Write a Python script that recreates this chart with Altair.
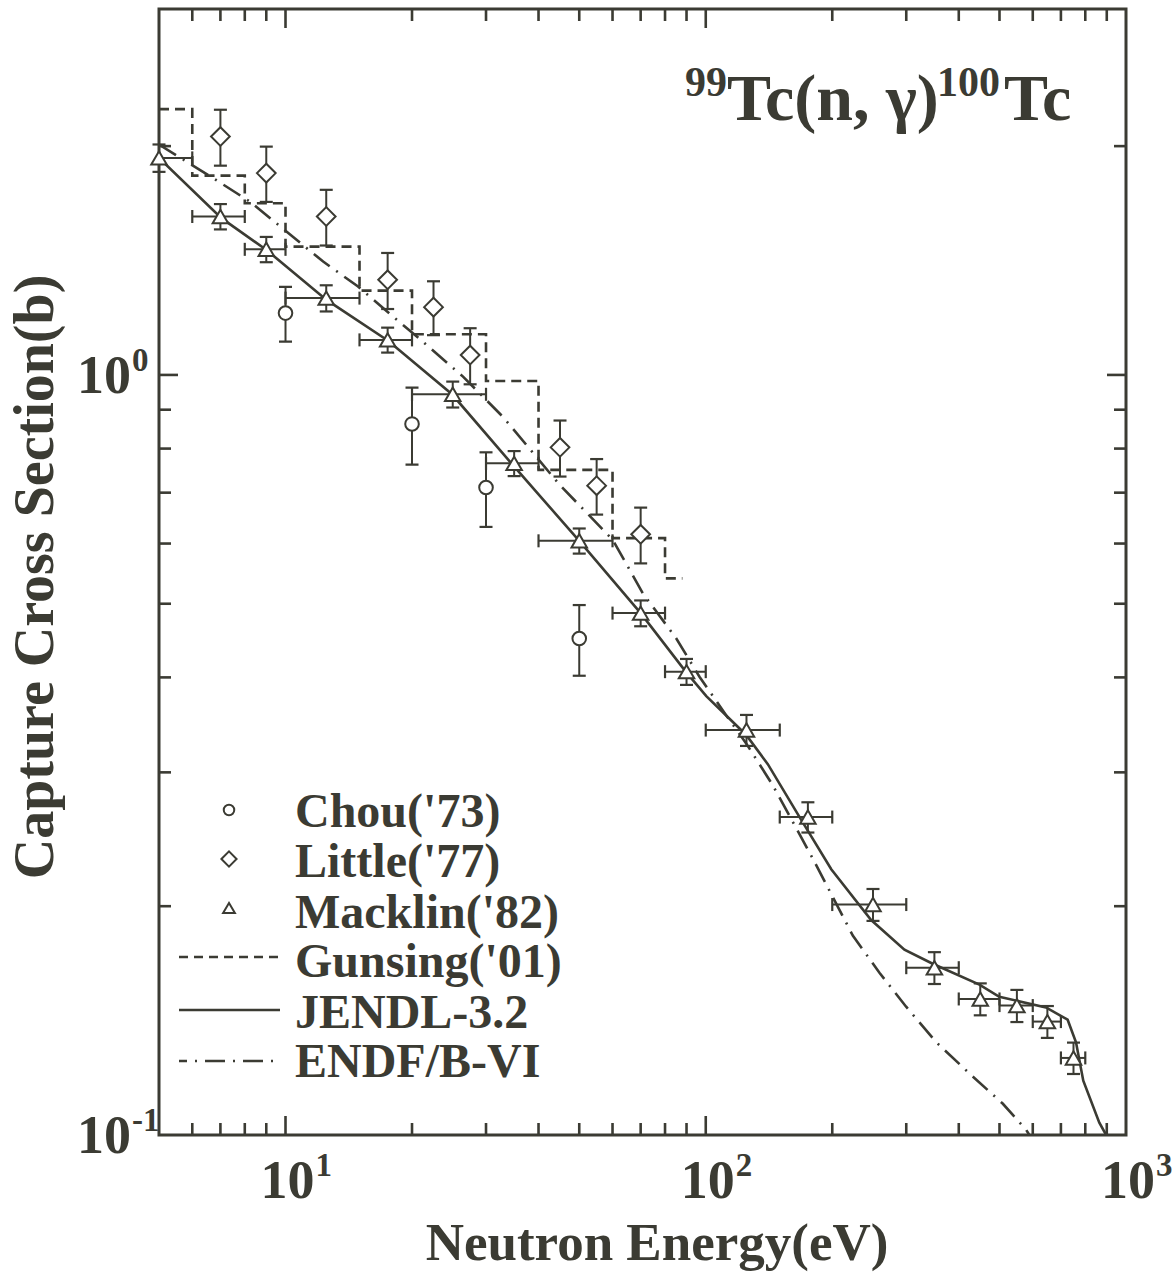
import altair as alt
import pandas as pd

INK = "#3b3b33"
SERIF = "Liberation Serif"
TICKFONT = "Liberation Serif"
W, H = 967, 1126

# ---------------- measured capture cross sections ----------------
chou_e = [10, 20, 30, 50]
chou_sig = [1.206, 0.862, 0.711, 0.450]
chou_err = [0.10, 0.10, 0.08, 0.048]

little_e = [7, 9, 12.5, 17.5, 22.5, 27.5, 45, 55, 70]
little_sig = [2.059, 1.843, 1.616, 1.334, 1.228, 1.062, 0.803, 0.715, 0.617]
little_err = [0.174, 0.154, 0.136, 0.113, 0.10, 0.09, 0.068, 0.06, 0.052]

mack_e = [5, 7, 9, 12.5, 17.5, 25, 35, 50, 70, 90, 125, 175, 250, 350, 450, 550, 650, 750]
mack_elo = [4, 6, 8, 10, 15, 20, 30, 40, 60, 80, 100, 150, 200, 300, 400, 500, 600, 700]
mack_ehi = [6, 8, 10, 15, 20, 30, 40, 60, 80, 100, 150, 200, 300, 400, 500, 600, 700, 800]
mack_sig = [1.93, 1.616, 1.463, 1.262, 1.112, 0.943, 0.765, 0.605, 0.486, 0.407,
            0.341, 0.262, 0.201, 0.166, 0.151, 0.148, 0.141, 0.1263]
mack_err = [0.08, 0.062, 0.056, 0.05, 0.042, 0.037, 0.029, 0.023, 0.019, 0.016,
            0.016, 0.012, 0.0097, 0.008, 0.0073, 0.0072, 0.0068, 0.006]

# Gunsing ('01): averaged cross section per energy bin (bin edges, value per bin)
gunsing_edges = [5, 6, 8, 10, 15, 20, 30, 40, 60, 80, 88]
gunsing_sig = [2.237, 1.829, 1.682, 1.475, 1.291, 1.131, 0.982, 0.750, 0.610, 0.540, 0.540]

# ---------------- evaluated data ----------------
jendl_e = [5.0, 7.04, 9.01, 12.52, 17.54, 24.9, 34.9, 50, 70, 89.6, 100.3, 124.8, 140.5,
           167.2, 198.9, 247.5, 297, 346.7, 447.9, 499.5, 645, 726.3, 760.4, 791.3, 864, 897]
jendl_sig = [1.93, 1.608, 1.46, 1.255, 1.109, 0.943, 0.759, 0.605, 0.486, 0.407, 0.378,
             0.336, 0.3075, 0.262, 0.2237, 0.1918, 0.1753, 0.168, 0.1577, 0.152, 0.1472,
             0.1418, 0.1324, 0.1179, 0.1038, 0.1]

endf_e = [5.0, 6.73, 8.23, 10.05, 12.29, 14.88, 18.03, 20.1, 26.45, 32.9, 44.9, 60.1,
          70.85, 85.1, 96.7, 111.9, 124.8, 144.4, 179.8, 223.8, 259, 299.8, 353.4, 424,
          508.7, 578.4, 589]
endf_sig = [2.01, 1.815, 1.69, 1.544, 1.41, 1.307, 1.193, 1.135, 0.995, 0.881, 0.717,
            0.6066, 0.516, 0.450, 0.4005, 0.3565, 0.3275, 0.2885, 0.231, 0.183, 0.1635,
            0.1475, 0.1325, 0.1205, 0.110, 0.1016, 0.1]

# ---------------- axis ticks and labels ----------------
x_major = [10, 100]
x_minor = [6, 7, 8, 9, 20, 30, 40, 50, 60, 70, 80, 90, 200, 300, 400, 500, 600, 700, 800, 900]
y_major = [1]
y_minor = [0.2, 0.3, 0.4, 0.5, 0.6, 0.7, 0.8, 0.9, 2]
x_label_at = [10, 100, 1000]
x_label_exp = ["1", "2", "3"]
y_label_at = [0.1, 1]
y_label_exp = ["-1", "0"]

legend_names = ["Chou('73)", "Little('77)", "Macklin('82)", "Gunsing('01)", "JENDL-3.2", "ENDF/B-VI"]

xs = alt.Scale(type="log", domain=[5, 1000], nice=False)
ys = alt.Scale(type="log", domain=[0.1, 3.03], nice=False)


def X(f):
    return alt.X(f"{f}:Q", scale=xs, axis=None)


def Y(f):
    return alt.Y(f"{f}:Q", scale=ys, axis=None)


def points_df(e, s, err):
    d = pd.DataFrame({"e": e, "s": s, "err": err})
    d["lo"] = d["s"] - d["err"]
    d["hi"] = d["s"] + d["err"]
    return d


chou = points_df(chou_e, chou_sig, chou_err)
little = points_df(little_e, little_sig, little_err)
mack = points_df(mack_e, mack_sig, mack_err)
mack["elo"] = mack_elo
mack["ehi"] = mack_ehi

layers = []

# evaluated curves and the Gunsing histogram
layers.append(alt.Chart(pd.DataFrame({"e": jendl_e, "s": jendl_sig})).mark_line(
    color=INK, strokeWidth=2.6, clip=True).encode(x=X("e"), y=Y("s")))
layers.append(alt.Chart(pd.DataFrame({"e": endf_e, "s": endf_sig})).mark_line(
    color=INK, strokeWidth=2.6, strokeDash=[20, 8, 2, 8], clip=True).encode(x=X("e"), y=Y("s")))
layers.append(alt.Chart(pd.DataFrame({"e": gunsing_edges, "s": gunsing_sig})).mark_line(
    color=INK, strokeWidth=2.6, strokeDash=[10, 6], interpolate="step-after", clip=True
).encode(x=X("e"), y=Y("s")))

# vertical error bars with caps
for d in (chou, little, mack):
    base = alt.Chart(d)
    layers.append(base.mark_rule(color=INK, strokeWidth=2).encode(
        x=X("e"), y=Y("lo"), y2="hi:Q"))
    layers.append(base.transform_fold(["lo", "hi"], as_=["k", "v"]).mark_tick(
        color=INK, orient="horizontal", size=13, thickness=2.2, opacity=1).encode(
        x=X("e"), y=Y("v")))

# horizontal (energy bin) error bars of Macklin
mb = alt.Chart(mack)
layers.append(mb.mark_rule(color=INK, strokeWidth=2, clip=True).encode(
    x=X("elo"), x2="ehi:Q", y=Y("s")))
layers.append(mb.transform_fold(["elo", "ehi"], as_=["k", "v"]).mark_tick(
    color=INK, orient="vertical", size=13, thickness=2.2, opacity=1, clip=True).encode(
    x=X("v"), y=Y("s")))

# open markers
for d, shape, size in ((chou, "circle", 185), (little, "diamond", 350), (mack, "triangle-up", 240)):
    layers.append(alt.Chart(d).mark_point(
        shape=shape, size=size, fill="white", fillOpacity=1, stroke=INK, strokeWidth=2,
        opacity=1).encode(x=X("e"), y=Y("s")))

# inward ticks on all four sides
for vals, ln in ((x_major, 19), (x_minor, 12)):
    tdf = pd.DataFrame({"v": vals})
    layers.append(alt.Chart(tdf).mark_rule(color=INK, strokeWidth=2.6).encode(
        x=X("v"), y=alt.value(H), y2=alt.value(H - ln)))
    layers.append(alt.Chart(tdf).mark_rule(color=INK, strokeWidth=2.6).encode(
        x=X("v"), y=alt.value(0), y2=alt.value(ln)))
for vals, ln in ((y_major, 19), (y_minor, 12)):
    tdf = pd.DataFrame({"v": vals})
    layers.append(alt.Chart(tdf).mark_rule(color=INK, strokeWidth=2.6).encode(
        y=Y("v"), x=alt.value(0), x2=alt.value(ln)))
    layers.append(alt.Chart(tdf).mark_rule(color=INK, strokeWidth=2.6).encode(
        y=Y("v"), x=alt.value(W), x2=alt.value(W - ln)))

# tick labels written as 10 with a raised exponent
xl = pd.DataFrame({"v": x_label_at, "p": x_label_exp})
layers.append(alt.Chart(xl).mark_text(
    font=TICKFONT, fontWeight="bold", fontSize=54, color=INK, align="right",
    baseline="alphabetic", dx=29).encode(x=X("v"), y=alt.value(H + 63), text=alt.value("10")))
layers.append(alt.Chart(xl).mark_text(
    font=TICKFONT, fontWeight="bold", fontSize=33, color=INK, align="left",
    baseline="alphabetic", dx=30).encode(x=X("v"), y=alt.value(H + 41), text="p:N"))

yl = pd.DataFrame({"v": y_label_at, "p": y_label_exp})
layers.append(alt.Chart(yl).mark_text(
    font=TICKFONT, fontWeight="bold", fontSize=54, color=INK, align="right",
    baseline="alphabetic", dy=18).encode(x=alt.value(-28), y=Y("v"), text=alt.value("10")))
layers.append(alt.Chart(yl).mark_text(
    font=TICKFONT, fontWeight="bold", fontSize=33, color=INK, align="left",
    baseline="alphabetic", dy=-4).encode(x=alt.value(-27), y=Y("v"), text="p:N"))

one = pd.DataFrame({"a": [0]})

# axis titles
layers.append(alt.Chart(one).mark_text(
    font=SERIF, fontWeight="bold", fontSize=53, color=INK, align="center",
    baseline="alphabetic").encode(x=alt.value(498), y=alt.value(H + 125),
                                  text=alt.value("Neutron Energy(eV)")))
layers.append(alt.Chart(one).mark_text(
    font=SERIF, fontWeight="bold", fontSize=56, color=INK, align="center",
    baseline="alphabetic", angle=270).encode(x=alt.value(-106), y=alt.value(568),
                                             text=alt.value("Capture Cross Section(b)")))

# reaction label
for txt, px, py, fs in (("99", 526, 87, 42), ("Tc(n, \u03b3)", 568, 111, 66),
                        ("100", 778, 87, 42), ("Tc", 845, 111, 66)):
    layers.append(alt.Chart(one).mark_text(
        font=SERIF, fontWeight="bold", fontSize=fs, color=INK, align="left",
        baseline="alphabetic").encode(x=alt.value(px), y=alt.value(py), text=alt.value(txt)))

# legend
leg_text_y = [818, 868, 919, 968, 1019, 1068]
for name, ty in zip(legend_names, leg_text_y):
    layers.append(alt.Chart(one).mark_text(
        font=SERIF, fontWeight="bold", fontSize=48, color=INK, align="left",
        baseline="alphabetic").encode(x=alt.value(136), y=alt.value(ty), text=alt.value(name)))
for shape, size, sy in (("circle", 110, 801), ("diamond", 230, 850), ("triangle-up", 140, 899)):
    layers.append(alt.Chart(one).mark_point(
        shape=shape, size=size, fill="white", fillOpacity=1, stroke=INK, strokeWidth=2,
        opacity=1).encode(x=alt.value(70), y=alt.value(sy)))
for dash, ly, off in (([9, 6], 948, 0), (None, 1001, 0), ([20, 8, 2, 8], 1052, 12)):
    kw = dict(color=INK, strokeWidth=2.6)
    if dash:
        kw["strokeDash"] = dash
        kw["strokeDashOffset"] = off
    layers.append(alt.Chart(one).mark_rule(**kw).encode(
        x=alt.value(20), x2=alt.value(121), y=alt.value(ly)))

chart = alt.layer(*layers).properties(
    width=W, height=H,
    autosize=alt.AutoSizeParams(type="none"),
    padding={"left": 159, "top": 9, "right": 50, "bottom": 139},
    background="white",
).configure_view(stroke=INK, strokeWidth=3)

chart.save("out.html", embed_options={"renderer": "svg", "actions": False})
